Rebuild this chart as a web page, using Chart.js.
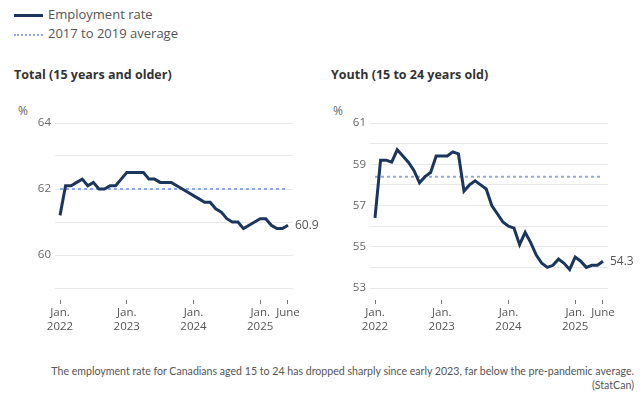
<!DOCTYPE html>
<html>
<head>
<meta charset="utf-8">
<script src="https://cdn.jsdelivr.net/npm/chart.js@4/dist/chart.umd.min.js"></script>
<style>
  body { margin: 0; background: #fff; width: 640px; height: 398px; position: relative; overflow: hidden; font-family: "Open Sans", sans-serif; }
  .legend { position: absolute; left: 14px; top: 5px; font-size: 13px; color: #555; }
  .legend div { height: 19px; line-height: 19px; }
  .legend span { display: inline-block; width: 29px; vertical-align: middle; margin-right: 5px; }
  .solid { border-top: 3px solid #1b365d; }
  .dotted { border-top: 2px dotted #8ea9e6; }
  .title { position: absolute; top: 66px; font-size: 12.5px; font-weight: bold; color: #333; }
  .unit { position: absolute; top: 102px; font-size: 12px; color: #666; }
  .box { position: absolute; top: 100px; width: 320px; height: 240px; }
  .caption { position: absolute; right: 6px; top: 364px; font-family: Lato, sans-serif; font-size: 10.6px; color: #555; text-align: right; line-height: 14px; }
</style>
</head>
<body>
<div class="legend">
  <div><span class="solid"></span>Employment rate</div>
  <div><span class="dotted"></span>2017 to 2019 average</div>
</div>
<div class="title" style="left:14px">Total (15 years and older)</div>
<div class="title" style="left:331px">Youth (15 to 24 years old)</div>
<div class="unit" style="left:18px">%</div>
<div class="unit" style="left:333px">%</div>
<div class="box" style="left:0"><canvas id="totalChart"></canvas></div>
<div class="box" style="left:320px"><canvas id="youthChart"></canvas></div>
<div class="caption">The employment rate for Canadians aged 15 to 24 has dropped sharply since early 2023, far below the pre-pandemic average.<br>(StatCan)</div>
<script>
// monthly, Jan. 2022 to June 2025
const tickIndex = [0, 12, 24, 36, 41];
const tickLabels = [['Jan.', '2022'], ['Jan.', '2023'], ['Jan.', '2024'], ['Jan.', '2025'], 'June'];

const totalRate = [61.2, 62.1, 62.1, 62.2, 62.3, 62.1, 62.2, 62.0, 62.0, 62.1, 62.1, 62.3,
    62.5, 62.5, 62.5, 62.5, 62.3, 62.3, 62.2, 62.2, 62.2, 62.1, 62.0, 61.9,
    61.8, 61.7, 61.6, 61.6, 61.4, 61.3, 61.1, 61.0, 61.0, 60.8, 60.9, 61.0,
    61.1, 61.1, 60.9, 60.8, 60.8, 60.9];
const totalAvg = 62.0;

const youthRate = [56.4, 59.2, 59.2, 59.1, 59.7, 59.4, 59.1, 58.7, 58.1, 58.4, 58.6, 59.4,
    59.4, 59.4, 59.6, 59.5, 57.7, 58.0, 58.2, 58.0, 57.8, 57.0, 56.6, 56.2,
    56.0, 55.9, 55.1, 55.7, 55.2, 54.6, 54.2, 54.0, 54.1, 54.4, 54.2, 53.9,
    54.5, 54.3, 54.0, 54.1, 54.1, 54.3];
const youthAvg = 58.4;

const lastLabel = {
    id: 'lastLabel',
    afterDatasetsDraw(chart) {
        const meta = chart.getDatasetMeta(0);
        const pt = meta.data[meta.data.length - 1];
        const ds = chart.data.datasets[0].data;
        const { ctx } = chart;
        ctx.save();
        ctx.font = '12px "Open Sans"';
        ctx.fillStyle = '#555';
        ctx.textBaseline = 'middle';
        ctx.fillText(ds[ds.length - 1].y.toFixed(1), pt.x + 7, pt.y);
        ctx.restore();
    }
};

function makeChart(id, values, avg, yMin, yMax, showLabel, yWidth, padRight) {
    const pts = values.map((v, i) => ({ x: i, y: v }));
    const avgPts = values.map((v, i) => ({ x: i, y: avg }));
    return new Chart(document.getElementById(id), {
        type: 'line',
        data: {
            datasets: [{
                data: pts,
                borderColor: '#1b365d',
                borderWidth: 3,
                pointRadius: 0,
                tension: 0
            }, {
                data: avgPts,
                borderColor: '#8ea9e6',
                borderWidth: 2,
                borderDash: [3, 3],
                pointRadius: 0
            }]
        },
        options: {
            responsive: false,
            animation: false,
            layout: { padding: { top: 23, right: padRight, bottom: 0, left: 0 } },
            plugins: { legend: { display: false }, tooltip: { enabled: false } },
            scales: {
                x: {
                    type: 'linear',
                    min: -0.9,
                    max: 41.9,
                    afterBuildTicks: scale => { scale.ticks = tickIndex.map(v => ({ value: v })); },
                    afterFit: scale => { scale.height = 52; },
                    border: { display: false },
                    grid: {
                        drawOnChartArea: false,
                        tickLength: 16,
                        tickColor: '#777',
                        tickWidth: 1,
                        tickBorderDash: [0, 12, 4, 40]
                    },
                    ticks: {
                        autoSkip: false,
                        maxRotation: 0,
                        padding: 2,
                        color: '#555',
                        font: { family: 'Open Sans', size: 11.5 },
                        callback: v => tickLabels[tickIndex.indexOf(v)]
                    }
                },
                y: {
                    min: yMin,
                    max: yMax,
                    afterFit: scale => { scale.width = yWidth; },
                    border: { display: false },
                    grid: { color: '#e8e8e8', drawTicks: false },
                    ticks: {
                        stepSize: 1,
                        padding: 4,
                        color: '#666',
                        font: { family: 'Open Sans', size: 11.5 },
                        callback: v => showLabel(v) ? v : ''
                    }
                }
            }
        },
        plugins: [lastLabel]
    });
}

const c1 = document.getElementById('totalChart');
c1.width = 320; c1.height = 240;
const c2 = document.getElementById('youthChart');
c2.width = 320; c2.height = 240;

makeChart('totalChart', totalRate, totalAvg, 59, 64, v => v % 2 === 0, 55, 27);
makeChart('youthChart', youthRate, youthAvg, 53, 61, v => v % 2 === 1, 50, 32);
</script>
</body>
</html>
